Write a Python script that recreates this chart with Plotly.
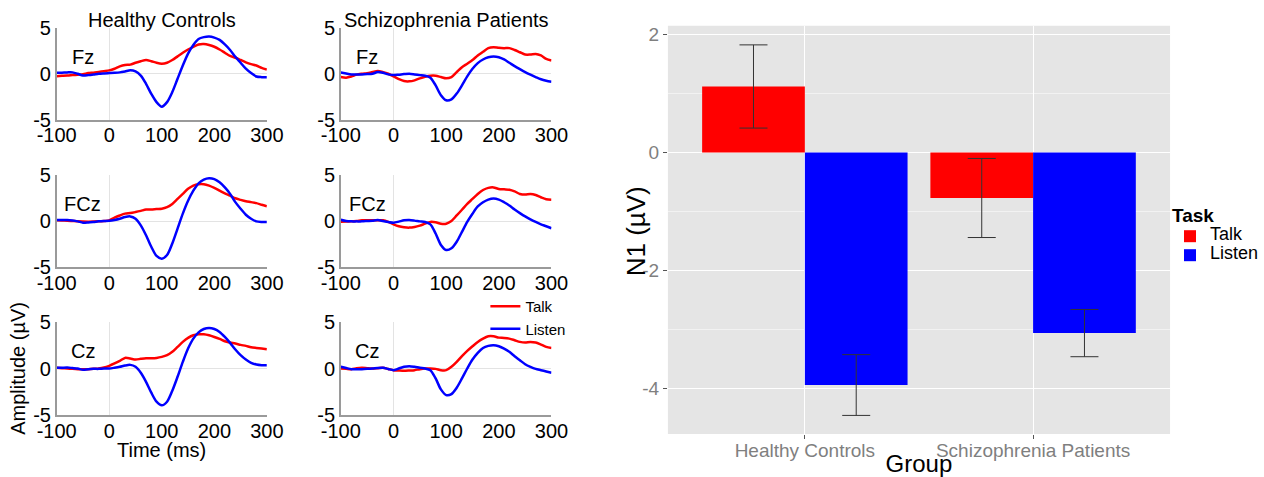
import plotly.graph_objects as go

# ---------------- data ----------------
time_ms = list(range(-100, 301, 10))
groups = ["Healthy Controls", "Schizophrenia Patients"]
electrodes = ["Fz", "FCz", "Cz"]
tasks = ["Talk", "Listen"]

hc_fz_talk = [-0.26,-0.23,-0.2,-0.15,-0.1,-0.05,0.07,0.12,0.2,0.28,
              0.37,0.55,0.8,0.95,1.0,1.2,1.37,1.5,1.37,1.2,
              1.1,1.2,1.5,1.9,2.3,2.65,2.95,3.2,3.25,3.15,
              2.95,2.65,2.3,1.95,1.75,1.5,1.25,1.05,0.9,0.65,0.45]
hc_fz_listen = [0.1,0.12,0.15,0.15,0.0,-0.2,-0.15,-0.08,0.0,0.04,
                0.07,0.1,0.15,0.25,0.37,0.25,-0.2,-1.1,-2.2,-3.1,
                -3.6,-3.1,-2.0,-0.55,0.9,2.2,3.15,3.8,4.0,4.07,
                3.95,3.7,3.2,2.6,1.85,1.2,0.55,0.07,-0.3,-0.37,-0.37]
sz_fz_talk = [-0.36,-0.43,-0.3,-0.1,0.0,0.07,0.18,0.29,0.18,0.0,
              -0.29,-0.58,-0.8,-0.83,-0.72,-0.5,-0.33,-0.22,-0.22,-0.36,
              -0.5,-0.36,0.18,0.72,1.1,1.5,2.0,2.4,2.8,2.9,
              2.83,2.8,2.8,2.6,2.35,2.1,2.1,2.17,2.0,1.63,1.45]
sz_fz_listen = [0.14,0.03,-0.07,-0.07,-0.07,-0.04,0.0,0.18,0.1,-0.07,
                -0.15,-0.1,-0.04,0.0,-0.07,-0.15,-0.22,-0.43,-1.27,-2.35,
                -2.9,-2.8,-2.17,-1.27,-0.29,0.54,1.16,1.56,1.8,1.88,
                1.8,1.56,1.2,0.83,0.5,0.18,-0.1,-0.36,-0.6,-0.76,-0.87]
hc_fcz_talk = [0.07,0.05,0.04,0.0,-0.04,-0.06,-0.07,-0.06,-0.04,0.0,
               0.07,0.36,0.6,0.8,0.86,0.97,1.1,1.25,1.25,1.3,
               1.33,1.5,1.86,2.4,2.95,3.5,3.85,4.0,4.0,3.85,
               3.6,3.3,3.0,2.75,2.47,2.3,2.15,2.05,1.94,1.76,1.6]
hc_fcz_listen = [0.1,0.1,0.1,0.05,-0.04,-0.18,-0.15,-0.1,-0.04,0.0,
                 0.03,0.12,0.25,0.43,0.5,0.25,-0.47,-1.55,-2.8,-3.8,
                 -4.1,-3.7,-2.44,-0.82,0.8,2.2,3.3,4.1,4.5,4.65,
                 4.55,4.2,3.65,2.95,2.05,1.33,0.68,0.25,-0.04,-0.1,-0.1]
sz_fcz_talk = [-0.07,-0.05,-0.04,0.0,0.07,0.07,0.07,0.07,0.07,-0.1,
               -0.36,-0.57,-0.68,-0.72,-0.65,-0.5,-0.29,-0.1,-0.14,-0.29,
               -0.29,0.0,0.6,1.22,1.86,2.4,2.94,3.37,3.6,3.65,
               3.48,3.44,3.4,3.22,2.94,2.87,2.94,2.83,2.58,2.37,2.3]
sz_fcz_listen = [0.14,0.0,-0.04,-0.04,-0.04,0.0,0.04,0.1,0.0,-0.1,
                 -0.18,-0.07,0.07,0.1,0.04,-0.04,-0.1,-0.36,-1.36,-2.6,
                 -3.15,-2.97,-2.26,-1.18,-0.1,0.79,1.58,2.04,2.33,2.44,
                 2.33,2.04,1.68,1.25,0.86,0.5,0.18,-0.1,-0.36,-0.57,-0.79]
hc_cz_talk = [0.07,0.03,0.0,-0.04,-0.07,-0.07,-0.07,-0.04,0.0,0.1,
              0.29,0.54,0.82,1.14,1.07,0.96,1.04,1.1,1.1,1.14,
              1.25,1.43,1.79,2.32,2.86,3.29,3.57,3.68,3.68,3.57,
              3.39,3.18,2.93,2.79,2.68,2.54,2.43,2.29,2.21,2.14,2.07]
hc_cz_listen = [0.07,0.08,0.1,0.05,0.0,-0.14,-0.07,-0.04,-0.04,0.0,
                0.0,0.08,0.18,0.32,0.39,0.18,-0.46,-1.43,-2.6,-3.57,
                -3.96,-3.57,-2.39,-0.89,0.71,2.14,3.21,3.89,4.25,4.36,
                4.25,3.93,3.39,2.75,2.04,1.43,0.96,0.61,0.43,0.36,0.36]
sz_cz_talk = [0.0,-0.04,-0.07,0.03,0.07,0.03,0.0,0.03,0.07,-0.05,
              -0.18,-0.22,-0.25,-0.22,-0.18,-0.07,0.0,0.0,-0.04,-0.18,
              -0.18,0.18,0.71,1.32,1.89,2.39,2.86,3.21,3.46,3.46,
              3.32,3.29,3.21,3.04,2.86,2.79,2.86,2.79,2.57,2.32,2.21]
sz_cz_listen = [0.18,0.05,-0.07,-0.07,-0.07,-0.04,0.0,0.05,0.07,-0.05,
                -0.18,0.0,0.18,0.25,0.18,0.07,0.0,-0.18,-1.07,-2.25,
                -2.86,-2.75,-2.07,-1.07,0.0,0.96,1.68,2.21,2.43,2.5,
                2.39,2.14,1.79,1.32,0.89,0.46,0.18,-0.04,-0.18,-0.32,-0.46]

erp_xtick_vals = [-100, 0, 100, 200, 300]
erp_xtick_text = ["-100", "0", "100", "200", "300"]
erp_ytick_vals = [-5, 0, 5]
erp_ytick_text = ["-5", "0", "5"]

n1_talk = [1.12, -0.77]
n1_talk_se = [0.705, 0.67]
n1_listen = [-3.94, -3.06]
n1_listen_se = [0.515, 0.40]
bar_ytick_vals = [-4, -2, 0, 2]
bar_ytick_text = ["-4", "-2", "0", "2"]

# ---------------- figure ----------------
W, H = 1264, 477
RED, BLUE = "#ff0000", "#0000ff"
FONT = "Liberation Sans, Arial, sans-serif"

panels = {
    ("Healthy Controls", "Fz"): (hc_fz_talk, hc_fz_listen),
    ("Schizophrenia Patients", "Fz"): (sz_fz_talk, sz_fz_listen),
    ("Healthy Controls", "FCz"): (hc_fcz_talk, hc_fcz_listen),
    ("Schizophrenia Patients", "FCz"): (sz_fcz_talk, sz_fcz_listen),
    ("Healthy Controls", "Cz"): (hc_cz_talk, hc_cz_listen),
    ("Schizophrenia Patients", "Cz"): (sz_cz_talk, sz_cz_listen),
}

col_px = [(57.5, 270.5), (345.5, 559.0)]
row_px = [(28.0, 119.5), (175.0, 267.0), (322.0, 415.0)]

fig = go.Figure()
layout = {}
annotations = []

for r, el in enumerate(electrodes):
    for c, g in enumerate(groups):
        n = r * 2 + c + 1
        xs = "" if n == 1 else str(n)
        talk, listen = panels[(g, el)]
        for task, vals, col in (("Talk", talk, RED), ("Listen", listen, BLUE)):
            fig.add_trace(go.Scatter(
                x=time_ms, y=vals, mode="lines", name=task,
                line=dict(color=col, width=2.5, shape="spline", smoothing=0.8),
                xaxis="x" + xs, yaxis="y" + xs,
                legend="legend2", showlegend=(n == 1),
            ))
        x0, x1 = col_px[c]
        y0, y1 = row_px[r]
        layout["xaxis" + xs] = dict(
            domain=[x0 / W, x1 / W], anchor="y" + xs, range=[-100, 300],
            tickvals=erp_xtick_vals, ticktext=erp_xtick_text, automargin=False,
            showgrid=False, zeroline=True, zerolinecolor="#e3e3e3", zerolinewidth=1,
            showline=True, linecolor="#9a9a9a", linewidth=1.5, ticks="",
            ticklabelstandoff=-3,
            tickfont=dict(size=20, color="black", family=FONT),
        )
        layout["yaxis" + xs] = dict(
            domain=[1 - y1 / H, 1 - y0 / H], anchor="x" + xs, range=[-5, 5],
            tickvals=erp_ytick_vals, ticktext=erp_ytick_text, automargin=False,
            showgrid=False, zeroline=True, zerolinecolor="#e3e3e3", zerolinewidth=1,
            showline=True, linecolor="#9a9a9a", linewidth=1.5, ticks="",
            tickfont=dict(size=20, color="black", family=FONT),
        )
        annotations.append(dict(
            text=el, x=-50, y=1.85, xref="x" + xs, yref="y" + xs,
            showarrow=False, font=dict(size=20, color="black", family=FONT),
        ))

for c, g in enumerate(groups):
    x0, x1 = col_px[c]
    annotations.append(dict(
        text=g, x=(x0 + x1) / 2 / W, y=1 - 20 / H, xref="paper", yref="paper",
        showarrow=False, font=dict(size=20, color="black", family=FONT),
        xanchor="center", yanchor="middle",
    ))

annotations.append(dict(
    text="Amplitude (µV)", x=18 / W, y=1 - 368 / H, xref="paper", yref="paper",
    showarrow=False, textangle=-90, font=dict(size=20, color="black", family=FONT),
    xanchor="center", yanchor="middle",
))
annotations.append(dict(
    text="Time (ms)", x=164 / W, y=1 - 450 / H, xref="paper", yref="paper",
    showarrow=False, font=dict(size=20, color="black", family=FONT),
    xanchor="center", yanchor="middle",
))
annotations.append(dict(
    text="N1 (µV)", x=645 / W, y=1 - 231 / H, xref="paper", yref="paper",
    showarrow=False, textangle=-90, font=dict(size=26, color="black", family=FONT),
    xanchor="center", yanchor="middle",
))

# ---- bar chart ----
for task, vals, se, col in (("Talk", n1_talk, n1_talk_se, RED),
                            ("Listen", n1_listen, n1_listen_se, BLUE)):
    fig.add_trace(go.Bar(
        x=groups, y=vals, name='<span style="font-size:18px">%s</span>' % task,
        marker=dict(color=col, line=dict(width=0)),
        error_y=dict(type="data", array=se, visible=True, color="#333333",
                     thickness=1, width=14),
        xaxis="x7", yaxis="y7", legend="legend",
    ))

layout["xaxis7"] = dict(
    domain=[677 / W, 1186 / W], anchor="y7", range=[-0.6, 1.6], automargin=False,
    showgrid=True, gridcolor="white", gridwidth=1.2, zeroline=False,
    showline=False, ticks="outside", ticklen=4, tickcolor="#555555",
    ticklabelstandoff=-5,
    tickfont=dict(size=19, color="#7f7f7f", family=FONT),
    title=dict(text="Group", font=dict(size=24, color="black", family=FONT), standoff=0),
)
layout["yaxis7"] = dict(
    domain=[1 - 434 / H, 1 - 25.7 / H], anchor="x7", range=[-4.77, 2.15], automargin=False,
    tickvals=bar_ytick_vals, ticktext=bar_ytick_text,
    showgrid=True, gridcolor="white", gridwidth=1.2, zeroline=False,
    minor=dict(tickvals=[-3, -1, 1], showgrid=True, gridcolor="#f2f2f2", gridwidth=0.6),
    showline=False, ticks="outside", ticklen=4, tickcolor="#555555",
    tickfont=dict(size=19, color="#7f7f7f", family=FONT),
)

fig.update_layout(
    width=W, height=H, margin=dict(l=0, r=0, t=0, b=0),
    paper_bgcolor="white", plot_bgcolor="white",
    font=dict(family=FONT, color="black"),
    barmode="group", bargap=0.1, bargroupgap=0,
    annotations=annotations,
    shapes=[dict(type="rect", xref="x7 domain", yref="y7 domain",
                 x0=0, x1=1, y0=0, y1=1, layer="below",
                 fillcolor="#e5e5e5", line=dict(width=0))],
    legend=dict(
        title=dict(text="<b>Task</b>", font=dict(size=19, color="black", family=FONT)),
        x=1186 / W, y=1 - 197 / H, xanchor="left", yanchor="top",
        font=dict(size=11, color="black", family=FONT),
        bgcolor="rgba(0,0,0,0)", tracegroupgap=0, itemwidth=30,
    ),
    legend2=dict(
        x=492 / W, y=1 - 290 / H, xanchor="left", yanchor="top",
        font=dict(size=15, color="black", family=FONT),
        bgcolor="rgba(0,0,0,0)", tracegroupgap=0,
    ),
    **layout,
)

fig.write_html("out.html")
